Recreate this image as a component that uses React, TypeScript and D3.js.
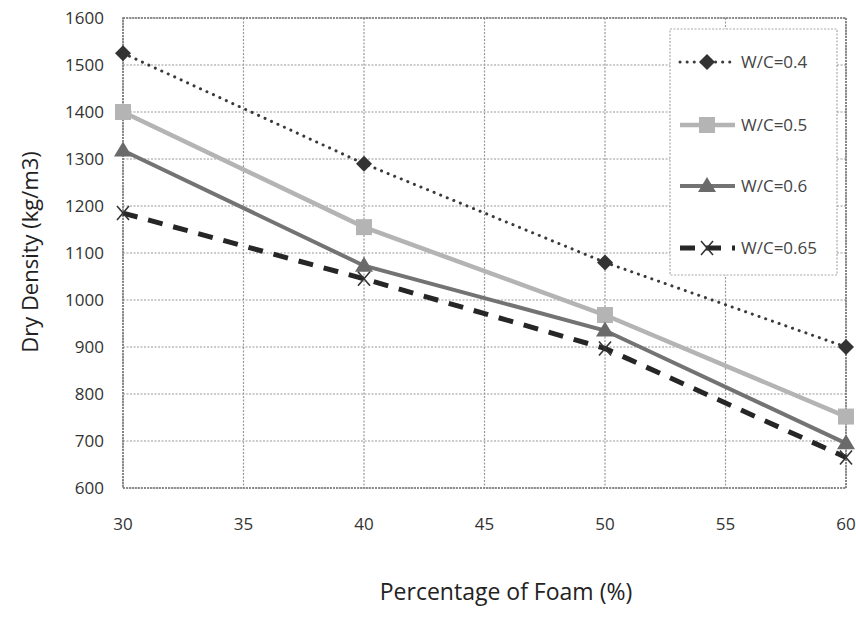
import React from "react";
import * as d3 from "d3";

const foam = [30, 40, 50, 60];
const wc04 = [1525, 1290, 1080, 900];
const wc05 = [1400, 1155, 968, 752];
const wc06 = [1318, 1073, 935, 695];
const wc065 = [1185, 1045, 897, 665];
const seriesNames = ["W/C=0.4", "W/C=0.5", "W/C=0.6", "W/C=0.65"];
const xTicks = [30, 35, 40, 45, 50, 55, 60];
const yTicks = [600, 700, 800, 900, 1000, 1100, 1200, 1300, 1400, 1500, 1600];

const W = 856, H = 618;
const M = { left: 123, right: 846, top: 18, bottom: 488 };

type Style = { color: string; width: number; dash: string; cap: string; marker: string; mcolor: string };
const styles: Style[] = [
  { color: "#3a3a3a", width: 3, dash: "0.1 7", cap: "round", marker: "diamond", mcolor: "#333" },
  { color: "#b4b4b4", width: 4.5, dash: "", cap: "butt", marker: "square", mcolor: "#b4b4b4" },
  { color: "#737373", width: 4, dash: "", cap: "butt", marker: "triangle", mcolor: "#6a6a6a" },
  { color: "#262626", width: 5, dash: "15 11", cap: "butt", marker: "x", mcolor: "#333" },
];

function Marker({ type, x, y, color }: { type: string; x: number; y: number; color: string }) {
  if (type === "diamond") {
    return <path d={`M${x},${y - 8}L${x + 8},${y}L${x},${y + 8}L${x - 8},${y}Z`} fill={color} />;
  }
  if (type === "square") {
    return <rect x={x - 8} y={y - 8} width={16} height={16} fill={color} />;
  }
  if (type === "triangle") {
    return <path d={`M${x},${y - 9}L${x + 9},${y + 6}L${x - 9},${y + 6}Z`} fill={color} />;
  }
  return (
    <g stroke={color} strokeWidth={1.6}>
      <line x1={x - 6} y1={y - 7} x2={x + 6} y2={y + 7} />
      <line x1={x - 6} y1={y + 7} x2={x + 6} y2={y - 7} />
    </g>
  );
}

export default function App() {
  const x = d3.scaleLinear().domain([30, 60]).range([M.left, M.right]);
  const y = d3.scaleLinear().domain([600, 1600]).range([M.bottom, M.top]);
  const data = [wc04, wc05, wc06, wc065];
  const line = d3
    .line<number>()
    .x((_, i) => x(foam[i]))
    .y((d) => y(d));
  const font = "'Open Sans', 'DejaVu Sans', sans-serif";
  const gridColor = "#999";
  const legendY = [62, 125, 186, 248];

  return (
    <svg width={W} height={H} style={{ position: "absolute", left: 0, top: 0, background: "#fff" }} fontFamily={font}>
      <rect x={0} y={0} width={W} height={H} fill="#fff" />
      {/* grid */}
      {yTicks.map((t) => (
        <line key={"gy" + t} x1={M.left} x2={M.right} y1={y(t)} y2={y(t)} stroke={gridColor} strokeWidth={1.2} strokeDasharray="2 1.5" />
      ))}
      {xTicks.map((t) => (
        <line key={"gx" + t} x1={x(t)} x2={x(t)} y1={M.top} y2={M.bottom} stroke={gridColor} strokeWidth={1.2} strokeDasharray="2 1.5" />
      ))}
      <rect x={M.left} y={M.top} width={M.right - M.left} height={M.bottom - M.top} fill="none" stroke="#777" strokeWidth={1.6} strokeDasharray="2 1" />
      {/* tick labels */}
      {yTicks.map((t) => (
        <text key={"ly" + t} x={104} y={y(t)} dy="0.35em" textAnchor="end" fontSize={17} fill="#333">
          {t}
        </text>
      ))}
      {xTicks.map((t) => (
        <text key={"lx" + t} x={x(t)} y={524} dy="0.35em" textAnchor="middle" fontSize={17} fill="#333">
          {t}
        </text>
      ))}
      {/* axis titles */}
      <text x={506} y={592} dy="0.35em" textAnchor="middle" fontSize={23} fill="#222">
        Percentage of Foam (%)
      </text>
      <text transform={`translate(30,252) rotate(-90)`} dy="0.35em" textAnchor="middle" fontSize={22} fill="#222">
        Dry Density (kg/m3)
      </text>
      {/* series */}
      {data.map((s, k) => (
        <g key={"s" + k}>
          <path
            d={line(s) || ""}
            fill="none"
            stroke={styles[k].color}
            strokeWidth={styles[k].width}
            strokeDasharray={styles[k].dash}
            strokeLinecap={styles[k].cap as any}
          />
          {s.map((v, i) => (
            <Marker key={i} type={styles[k].marker} x={x(foam[i])} y={y(v)} color={styles[k].mcolor} />
          ))}
        </g>
      ))}
      {/* legend */}
      <rect x={670} y={29} width={167} height={246} fill="#fff" stroke="#aaa" strokeWidth={1.2} strokeDasharray="2 1.5" />
      {seriesNames.map((n, k) => (
        <g key={"lg" + k}>
          <line
            x1={680}
            x2={735}
            y1={legendY[k]}
            y2={legendY[k]}
            stroke={styles[k].color}
            strokeWidth={styles[k].width}
            strokeDasharray={styles[k].dash}
            strokeLinecap={styles[k].cap as any}
          />
          <Marker type={styles[k].marker} x={707} y={legendY[k]} color={styles[k].mcolor} />
          <text x={741} y={legendY[k]} dy="0.35em" fontSize={17} fill="#444">
            {n}
          </text>
        </g>
      ))}
    </svg>
  );
}
